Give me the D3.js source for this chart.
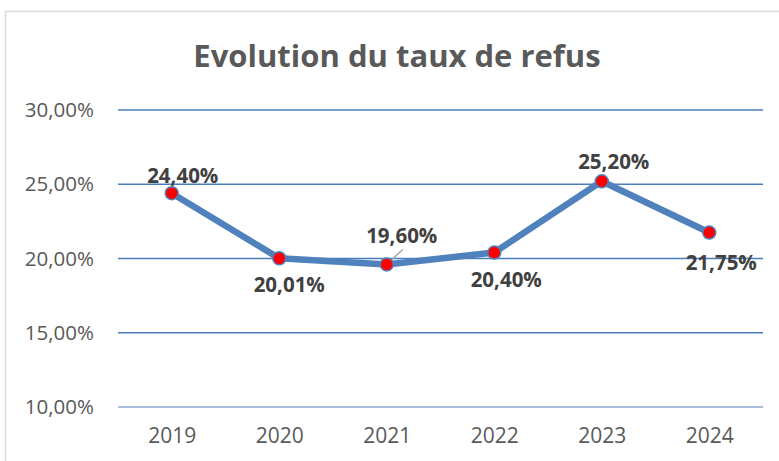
<!DOCTYPE html>
<html>
<head>
<meta charset="utf-8">
<script src="https://cdn.jsdelivr.net/npm/d3@7"></script>
<style>
  body { margin: 0; background: #fff; }
  svg text { font-family: "Open Sans", "Liberation Sans", sans-serif; }
</style>
</head>
<body>
<div id="chart"></div>
<script>
// Data
const years = ["2019", "2020", "2021", "2022", "2023", "2024"];
const rates = [24.40, 20.01, 19.60, 20.40, 25.20, 21.75];
const yTicks = [10, 15, 20, 25, 30];
const title = "Evolution du taux de refus";

const width = 779;
const height = 461;
const plot = { left: 118, right: 763, top: 110, bottom: 407 };

// label placement: dx, dy from the marker (above / below)
const labelOffsets = [[11, -17], [10, 26], [15, -29], [12, 27], [12, -19], [12, 30]];

const fmt = (v) => v.toFixed(2).replace(".", ",") + "%";

const svg = d3.select("#chart")
    .append("svg")
    .attr("width", width)
    .attr("height", height);

// Chart border
svg.append("rect")
    .attr("x", 5.5)
    .attr("y", 11.5)
    .attr("width", 800)
    .attr("height", 500)
    .attr("fill", "#fff")
    .attr("stroke", "#d9d9d9")
    .attr("stroke-width", 1.5);

// Title
svg.append("text")
    .attr("x", 397)
    .attr("y", 67)
    .attr("text-anchor", "middle")
    .attr("font-size", 31)
    .attr("font-weight", "bold")
    .attr("fill", "#595959")
    .text(title);

// Scales
const xScale = d3.scalePoint()
    .domain(years)
    .range([plot.left, plot.right])
    .padding(0.5);
const yScale = d3.scaleLinear()
    .domain([10, 30])
    .range([plot.bottom, plot.top]);

// Gridlines
svg.append("g")
    .selectAll("line")
    .data(yTicks)
    .enter()
    .append("line")
    .attr("x1", plot.left)
    .attr("x2", plot.right)
    .attr("y1", (d) => yScale(d))
    .attr("y2", (d) => yScale(d))
    .attr("stroke", (d) => d === 10 ? "#aabfdc" : "#4a7ebb")
    .attr("stroke-width", (d) => d === 10 ? 2 : 1.3);

// Y axis labels
const yAxis = d3.axisLeft(yScale)
    .tickValues(yTicks)
    .tickSize(0)
    .tickPadding(24)
    .tickFormat((d) => fmt(d));
const gy = svg.append("g")
    .attr("transform", `translate(${plot.left}, 0)`)
    .call(yAxis);
gy.select(".domain").remove();
gy.selectAll("text")
    .attr("font-size", 20.5)
    .attr("fill", "#595959")
    .style("font-family", "'Open Sans', sans-serif");

// X axis labels
const xAxis = d3.axisBottom(xScale).tickSize(0).tickPadding(21);
const gx = svg.append("g")
    .attr("transform", `translate(0, ${plot.bottom})`)
    .call(xAxis);
gx.select(".domain").remove();
gx.selectAll("text")
    .attr("font-size", 21)
    .attr("fill", "#595959")
    .style("font-family", "'Open Sans', sans-serif");

// Line
const line = d3.line()
    .x((d, i) => xScale(years[i]))
    .y((d) => yScale(d));
svg.append("path")
    .datum(rates)
    .attr("d", line)
    .attr("fill", "none")
    .attr("stroke", "#4f81bd")
    .attr("stroke-width", 6.5)
    .attr("stroke-linejoin", "round")
    .attr("stroke-linecap", "round");

// Leader line for 2021
svg.append("line")
    .attr("x1", xScale(years[2]) + 3)
    .attr("y1", yScale(rates[2]) - 3)
    .attr("x2", xScale(years[2]) + 16)
    .attr("y2", yScale(rates[2]) - 15)
    .attr("stroke", "#a6a6a6")
    .attr("stroke-width", 1.5);

// Markers
svg.append("g")
    .selectAll("circle")
    .data(rates)
    .enter()
    .append("circle")
    .attr("cx", (d, i) => xScale(years[i]))
    .attr("cy", (d) => yScale(d))
    .attr("r", 6.5)
    .attr("fill", "#ff0000")
    .attr("stroke", "#4f81bd")
    .attr("stroke-width", 1.5);

// Data labels
svg.append("g")
    .selectAll("text")
    .data(rates)
    .enter()
    .append("text")
    .attr("x", (d, i) => xScale(years[i]) + labelOffsets[i][0])
    .attr("y", (d, i) => yScale(d) + labelOffsets[i][1])
    .attr("dy", "0.35em")
    .attr("text-anchor", "middle")
    .attr("font-size", 20.5)
    .attr("font-weight", "bold")
    .attr("fill", "#404040")
    .text((d) => fmt(d));
</script>
</body>
</html>
